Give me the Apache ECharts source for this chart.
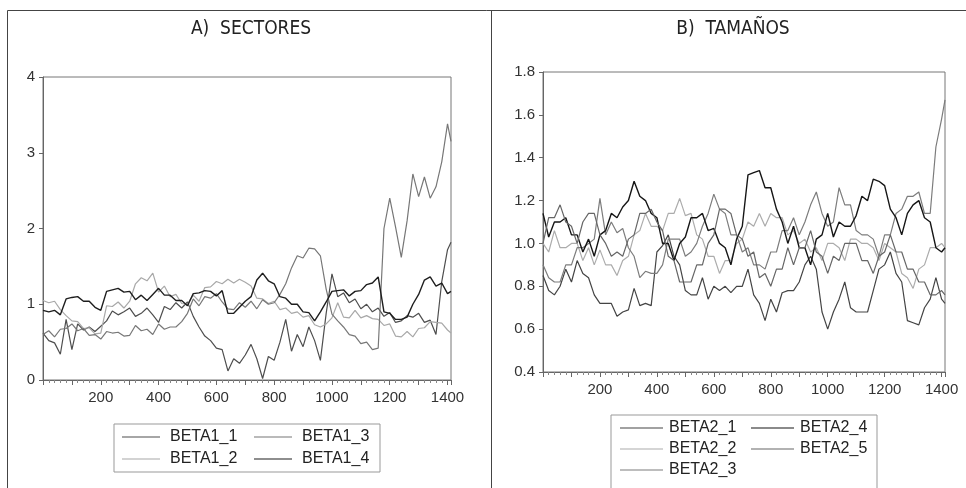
<!DOCTYPE html>
<html>
<head>
<meta charset="utf-8">
<title>Betas</title>
<script src="https://cdn.jsdelivr.net/npm/echarts@6.0.0/dist/echarts.min.js"></script>
<style>
    html, body { margin: 0; padding: 0; background: #fff; }
    #chart { width: 966px; height: 488px; }
</style>
</head>
<body>
<div id="chart"></div>
<script>
// observation number of each sampled value (every 20th obs, plus the last one)
let obs = [];
for (let i = 0; i <= 70; i++) obs.push(i * 20);
obs.push(1412);

let xTicks = [200, 400, 600, 800, 1000, 1200, 1400];
let panelTitles = ['A)  SECTORES', 'B)  TAMAÑOS'];

// A) sectores
let beta1_1 = [
    0.62, 0.52, 0.49, 0.34, 0.80, 0.40, 0.74, 0.66, 0.70, 0.64,
    0.71, 0.78, 0.91, 0.86, 0.90, 0.95, 0.84, 0.88, 0.95, 0.86,
    0.76, 0.97, 0.93, 1.02, 0.95, 1.03, 0.84, 0.70, 0.58, 0.52,
    0.42, 0.40, 0.12, 0.28, 0.22, 0.33, 0.47, 0.28, 0.02, 0.31,
    0.26, 0.50, 0.80, 0.38, 0.60, 0.44, 0.70, 0.52, 0.26, 0.88,
    1.40, 1.10, 1.15, 1.02, 1.07, 0.94, 1.00, 0.90, 0.95, 0.84,
    0.89, 0.76, 0.78, 0.85, 0.83, 0.88, 0.76, 0.79, 0.60, 1.30,
    1.72, 1.82
];
let beta1_2 = [
    1.05, 1.02, 1.04, 0.93, 0.85, 0.78, 0.77, 0.68, 0.69, 0.61,
    0.62, 0.98, 0.97, 1.03, 0.95, 1.04, 1.27, 1.35, 1.31, 1.41,
    1.16, 1.24, 1.10, 1.13, 1.01, 1.00, 1.12, 1.04, 1.22, 1.23,
    1.30, 1.27, 1.33, 1.28, 1.33, 1.29, 1.24, 1.08, 1.07, 1.01,
    1.04, 0.93, 0.95, 0.88, 0.90, 0.83, 0.85, 0.73, 0.70, 0.74,
    0.82, 1.02, 0.83, 0.82, 0.92, 0.82, 0.85, 0.81, 0.80, 0.72,
    0.74, 0.58, 0.57, 0.64, 0.57, 0.68, 0.69, 0.77, 0.76, 0.75,
    0.66, 0.62
];
let beta1_3 = [
    0.60, 0.65, 0.57, 0.67, 0.68, 0.74, 0.65, 0.68, 0.59, 0.60,
    0.54, 0.64, 0.62, 0.63, 0.58, 0.59, 0.72, 0.65, 0.67, 0.60,
    0.74, 0.67, 0.70, 0.70, 0.77, 0.88, 1.07, 0.98, 1.10, 1.08,
    1.14, 1.03, 0.94, 0.93, 1.02, 0.96, 1.04, 0.94, 1.06, 1.00,
    1.02, 1.13, 1.27, 1.48, 1.64, 1.61, 1.74, 1.73, 1.64, 1.20,
    0.87, 0.78, 0.70, 0.60, 0.58, 0.48, 0.50, 0.40, 0.42, 2.00,
    2.40, 2.02, 1.62, 2.10, 2.72, 2.42, 2.68, 2.40, 2.55, 2.88,
    3.38, 3.15
];
let beta1_4 = [
    0.92, 0.90, 0.92, 0.86, 1.07, 1.09, 1.10, 1.04, 1.04, 0.96,
    0.92, 1.17, 1.19, 1.21, 1.16, 1.17, 1.06, 1.12, 1.05, 1.13,
    1.21, 1.12, 1.12, 1.05, 1.05, 0.98, 1.14, 1.15, 1.18, 1.17,
    1.11, 1.18, 0.88, 0.88, 0.96, 1.04, 1.10, 1.32, 1.41, 1.31,
    1.27, 1.10, 1.08, 1.00, 1.00, 0.90, 0.89, 0.78, 0.90, 1.03,
    1.17, 1.18, 1.19, 1.11, 1.17, 1.18, 1.26, 1.28, 1.36, 0.90,
    0.88, 0.80, 0.80, 0.83, 1.00, 1.13, 1.32, 1.36, 1.24, 1.28,
    1.14, 1.17
];

// B) tamaños
let beta2_1 = [
    0.85, 0.78, 0.76, 0.80, 0.88, 0.82, 0.92, 0.86, 0.84, 0.76,
    0.72, 0.72, 0.72, 0.66, 0.68, 0.69, 0.79, 0.71, 0.72, 0.71,
    0.96, 0.99, 1.04, 0.94, 0.90, 0.78, 0.76, 0.76, 0.84, 0.74,
    0.80, 0.78, 0.80, 0.77, 0.80, 0.80, 0.88, 0.76, 0.72, 0.64,
    0.74, 0.68, 0.77, 0.78, 0.78, 0.82, 0.90, 0.94, 0.88, 0.68,
    0.60, 0.68, 0.74, 0.82, 0.70, 0.68, 0.68, 0.68, 0.78, 0.88,
    0.90, 0.96, 0.86, 0.82, 0.64, 0.63, 0.62, 0.70, 0.74, 0.84,
    0.74, 0.72
];
let beta2_2 = [
    1.00, 0.96, 1.06, 0.98, 0.98, 1.00, 1.00, 0.92, 0.98, 0.90,
    0.97, 0.90, 0.90, 0.85, 0.92, 0.94, 1.04, 1.06, 1.14, 1.08,
    1.08, 1.06, 1.14, 1.14, 1.21, 1.13, 1.14, 1.04, 1.02, 0.94,
    0.94, 0.86, 0.92, 0.92, 1.00, 1.02, 1.10, 1.08, 1.14, 1.08,
    1.14, 1.12, 1.12, 1.04, 1.06, 1.00, 1.02, 0.96, 0.98, 0.92,
    1.00, 1.00, 0.98, 0.92, 1.02, 1.02, 1.00, 1.00, 0.98, 0.92,
    1.00, 0.98, 0.96, 0.86, 0.84, 0.79, 0.88, 0.90, 0.98, 0.98,
    1.00, 0.98
];
let beta2_3 = [
    0.90, 0.84, 0.82, 0.82, 0.90, 0.90, 0.98, 0.98, 1.00, 1.02,
    1.21, 1.04, 1.10, 1.05, 1.07, 0.98, 0.94, 0.84, 0.87, 0.86,
    0.86, 0.90, 1.02, 1.02, 1.02, 0.94, 0.96, 1.00, 1.08, 1.14,
    1.23, 1.16, 1.14, 1.04, 1.04, 0.96, 0.98, 0.90, 0.90, 0.88,
    0.96, 0.96, 1.06, 1.06, 1.12, 1.04, 1.10, 1.18, 1.24, 1.14,
    1.08, 1.10, 1.26, 1.18, 1.18, 1.06, 1.04, 1.04, 1.02, 0.94,
    1.04, 1.04, 1.14, 1.16, 1.22, 1.22, 1.24, 1.14, 1.14, 1.45,
    1.58, 1.67
];
let beta2_4 = [
    1.14, 1.03, 1.10, 1.10, 1.12, 1.04, 1.04, 0.96, 1.02, 0.94,
    1.04, 1.06, 1.14, 1.12, 1.17, 1.20, 1.29, 1.22, 1.20, 1.14,
    1.12, 1.00, 1.00, 0.92, 1.00, 1.03, 1.12, 1.12, 1.14, 1.06,
    1.07, 1.00, 0.98, 0.90, 1.02, 1.08, 1.32, 1.33, 1.34, 1.26,
    1.26, 1.16, 1.10, 1.00, 1.08, 0.98, 0.98, 0.90, 1.02, 1.04,
    1.14, 1.03, 1.10, 1.08, 1.08, 1.13, 1.22, 1.20, 1.30, 1.29,
    1.27, 1.16, 1.12, 1.04, 1.14, 1.18, 1.20, 1.12, 1.10, 0.98,
    0.96, 0.98
];
let beta2_5 = [
    1.00, 1.12, 1.12, 1.18, 1.10, 1.08, 1.00, 1.10, 1.14, 1.14,
    1.04, 1.00, 0.94, 0.96, 0.94, 1.02, 1.04, 1.14, 1.14, 1.16,
    1.10, 1.06, 0.94, 0.92, 0.82, 0.82, 0.82, 0.90, 0.90, 1.00,
    1.04, 1.16, 1.16, 1.14, 1.04, 1.02, 0.94, 0.96, 0.84, 0.86,
    0.80, 0.88, 0.88, 0.98, 0.90, 0.98, 0.98, 1.06, 0.96, 0.94,
    0.86, 0.94, 0.92, 1.00, 1.00, 1.00, 0.92, 0.92, 0.86, 0.94,
    0.96, 1.04, 0.96, 0.96, 0.88, 0.88, 0.82, 0.82, 0.76, 0.76,
    0.78, 0.76
];

let labelFont = "'Liberation Sans', Arial, sans-serif";
let titleFont = "'Liberation Sans Narrow', 'DejaVu Sans Condensed', sans-serif";

function pairs(values) {
    return values.map(function (v, i) { return [obs[i], v]; });
}

function makeSeries(name, values, color, width, panel) {
    return {
        name: name,
        type: 'line',
        xAxisIndex: panel,
        yAxisIndex: panel,
        data: pairs(values),
        symbol: 'none',
        showSymbol: false,
        lineStyle: {width: width, color: color},
        itemStyle: {color: color},
        emphasis: {disabled: true}
    };
}

function makeXAxis(panel) {
    return {
        type: 'value',
        gridIndex: panel,
        min: 0,
        max: 1412,
        interval: 100,
        axisLine: {show: true, onZero: false, lineStyle: {color: '#666'}},
        axisTick: {show: true, length: 5, lineStyle: {color: '#666'}},
        minorTick: {show: true, splitNumber: 5, length: 3, lineStyle: {color: '#888'}},
        axisLabel: {
            fontSize: 15, color: '#333', fontFamily: labelFont, margin: 10,
            formatter: function (v) { return xTicks.indexOf(v) >= 0 ? String(v) : ''; }
        },
        splitLine: {show: false},
        minorSplitLine: {show: false}
    };
}

function makeYAxis(panel, min, max, step, digits) {
    return {
        type: 'value',
        gridIndex: panel,
        min: min,
        max: max,
        interval: step,
        axisLine: {show: true, onZero: false, lineStyle: {color: '#666'}},
        axisTick: {show: true, length: 4, lineStyle: {color: '#666'}},
        axisLabel: {
            fontSize: 15, color: '#333', fontFamily: labelFont, margin: 8,
            formatter: function (v) { return v.toFixed(digits); }
        },
        splitLine: {show: false}
    };
}

function frameLine(x1, y1, x2, y2) {
    return {type: 'line', shape: {x1: x1, y1: y1, x2: x2, y2: y2}, style: {stroke: '#444', lineWidth: 1}, silent: true};
}

function titleText(text, x) {
    return {
        type: 'text', x: x, y: 29, silent: true,
        style: {text: text, fill: '#222', fontSize: 19, fontFamily: titleFont, align: 'center', verticalAlign: 'middle'}
    };
}

let myChart = echarts.init(document.getElementById('chart'), null, {renderer: 'canvas'});
let option = {
    animation: false,
    backgroundColor: '#fff',
    grid: [
        {left: 43, top: 77, width: 408, height: 303, show: true, borderColor: '#777', borderWidth: 1, backgroundColor: 'transparent'},
        {left: 543, top: 72, width: 402, height: 300, show: true, borderColor: '#777', borderWidth: 1, backgroundColor: 'transparent'}
    ],
    xAxis: [makeXAxis(0), makeXAxis(1)],
    yAxis: [makeYAxis(0, 0, 4, 1, 0), makeYAxis(1, 0.4, 1.8, 0.2, 1)],
    legend: [
        {
            data: ['BETA1_1', 'BETA1_2', 'BETA1_3', 'BETA1_4'],
            orient: 'vertical', left: 114, top: 424, height: 40,
            icon: 'rect', itemWidth: 38, itemHeight: 1, itemGap: 6,
            padding: [5, 0, 5, 8],
            borderColor: '#999', borderWidth: 1,
            selectedMode: false,
            textStyle: {fontSize: 16, color: '#222', fontFamily: labelFont, width: 78, lineHeight: 14, padding: [0, 0, 0, 5]}
        },
        {
            data: ['BETA2_1', 'BETA2_2', 'BETA2_3', 'BETA2_4', 'BETA2_5'],
            orient: 'vertical', left: 611, top: 415, height: 64,
            icon: 'rect', itemWidth: 43, itemHeight: 1, itemGap: 5,
            padding: [5, 0, 14, 9],
            borderColor: '#999', borderWidth: 1,
            selectedMode: false,
            textStyle: {fontSize: 16, color: '#222', fontFamily: labelFont, width: 77, lineHeight: 13, padding: [0, 0, 0, 1]}
        }
    ],
    series: [
        makeSeries('BETA1_1', beta1_1, '#4e4e4e', 1.2, 0),
        makeSeries('BETA1_2', beta1_2, '#a8a8a8', 1.2, 0),
        makeSeries('BETA1_3', beta1_3, '#777777', 1.2, 0),
        makeSeries('BETA1_4', beta1_4, '#1e1e1e', 1.4, 0),
        makeSeries('BETA2_1', beta2_1, '#444444', 1.2, 1),
        makeSeries('BETA2_2', beta2_2, '#acacac', 1.2, 1),
        makeSeries('BETA2_3', beta2_3, '#7c7c7c', 1.2, 1),
        makeSeries('BETA2_4', beta2_4, '#161616', 1.4, 1),
        makeSeries('BETA2_5', beta2_5, '#666666', 1.2, 1)
    ],
    graphic: [
        frameLine(7.5, 10.5, 966, 10.5),
        frameLine(7.5, 10.5, 7.5, 488),
        frameLine(491.5, 10.5, 491.5, 488),
        titleText(panelTitles[0], 251),
        titleText(panelTitles[1], 733)
    ]
};
myChart.setOption(option);
</script>
</body>
</html>
